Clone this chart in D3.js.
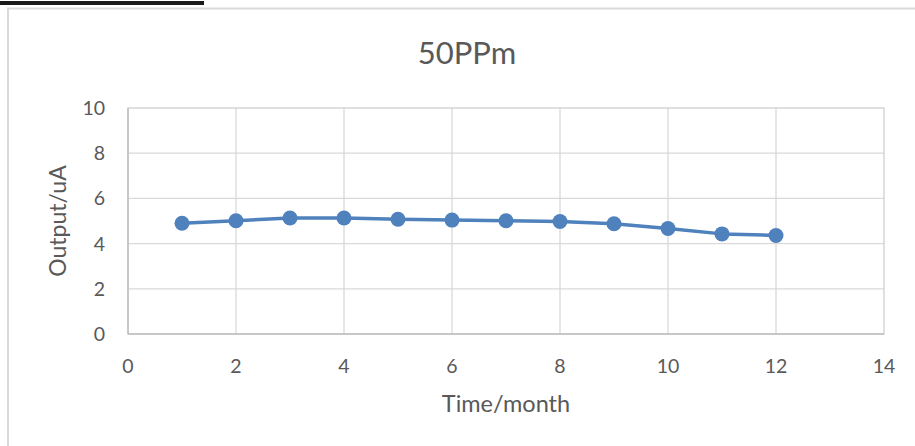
<!DOCTYPE html>
<html><head><meta charset="utf-8">
<script src="https://cdn.jsdelivr.net/npm/d3@7"></script>
<style>body{margin:0;background:#fff;}svg{display:block;}</style>
</head><body>
<svg id="c" width="915" height="446"></svg>
<script>
const months = [1,2,3,4,5,6,7,8,9,10,11,12];
const output = [4.90,5.01,5.13,5.13,5.08,5.04,5.01,4.98,4.88,4.67,4.43,4.36];
const xTicks = [0,2,4,6,8,10,12,14];
const yTicks = [0,2,4,6,8,10];
const title = "50PPm";
const xTitle = "Time/month";
const yTitle = "Output/uA";

const svg = d3.select("#c");
const font = "Lato, 'Open Sans', sans-serif";
const txt = "#595959";

// top black bar and chart border
svg.append("rect").attr("x",0).attr("y",1).attr("width",204).attr("height",4).attr("fill","#1a1a1a");
svg.append("path").attr("d","M8,446 V8.5 H915").attr("fill","none").attr("stroke","#d9d9d9").attr("stroke-width",2);

const L=128, R=884, T=108, B=334;
const x = d3.scaleLinear().domain([0,14]).range([L,R]);
const y = d3.scaleLinear().domain([0,10]).range([B,T]);

// gridlines
svg.append("g").selectAll("line").data(xTicks.slice(1,-1)).join("line")
  .attr("x1",d=>x(d)).attr("x2",d=>x(d)).attr("y1",T).attr("y2",B)
  .attr("stroke","#d9d9d9").attr("stroke-width",1.3);
svg.append("g").selectAll("line").data(yTicks.slice(1,-1)).join("line")
  .attr("x1",L).attr("x2",R).attr("y1",d=>y(d)).attr("y2",d=>y(d))
  .attr("stroke","#d9d9d9").attr("stroke-width",1.3);
// plot box
svg.append("rect").attr("x",L).attr("y",T).attr("width",R-L).attr("height",B-T)
  .attr("fill","none").attr("stroke","#d0d0d0").attr("stroke-width",1.3);
svg.append("line").attr("x1",L).attr("x2",R).attr("y1",B).attr("y2",B).attr("stroke","#bfbfbf").attr("stroke-width",1.5);
svg.append("line").attr("x1",L).attr("x2",L).attr("y1",T).attr("y2",B).attr("stroke","#bfbfbf").attr("stroke-width",1.5);

// tick labels
svg.append("g").selectAll("text").data(xTicks).join("text")
  .attr("x",d=>x(d)).attr("y",373).attr("text-anchor","middle")
  .attr("font-family",font).attr("font-size",19.5).attr("fill",txt).text(d=>d);
svg.append("g").selectAll("text").data(yTicks).join("text")
  .attr("x",105).attr("y",d=>y(d)+7).attr("text-anchor","end")
  .attr("font-family",font).attr("font-size",19.5).attr("fill",txt).text(d=>d);

// titles
svg.append("text").attr("x",467).attr("y",64).attr("text-anchor","middle")
  .attr("font-family",font).attr("font-size",31).attr("fill",txt).text(title);
svg.append("text").attr("x",506).attr("y",412).attr("text-anchor","middle")
  .attr("font-family",font).attr("font-size",23.5).attr("fill",txt).text(xTitle);
svg.append("text").attr("transform",`translate(66,${(T+B)/2}) rotate(-90)`).attr("text-anchor","middle")
  .attr("font-family",font).attr("font-size",23).attr("fill",txt).text(yTitle);

// series
const data = months.map((m,i)=>({m, v: output[i]}));
const color = "#4f81bd";
svg.append("path").datum(data)
  .attr("d", d3.line().x(d=>x(d.m)).y(d=>y(d.v)))
  .attr("fill","none").attr("stroke",color).attr("stroke-width",3.5).attr("stroke-linejoin","round");
svg.append("g").selectAll("circle").data(data).join("circle")
  .attr("cx",d=>x(d.m)).attr("cy",d=>y(d.v)).attr("r",7.5).attr("fill",color);
</script>
</body></html>
